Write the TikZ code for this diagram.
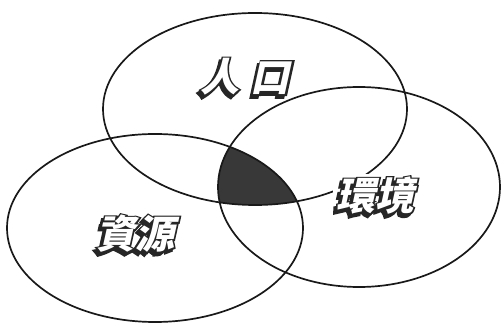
\documentclass[tikz,border=0pt]{standalone}
\usepackage{fontspec}
\newfontfamily\cjk[FakeSlant=0.22]{Noto Sans CJK TC}
\newfontfamily\cjkthick[FakeSlant=0.22,FakeBold=8]{Noto Sans CJK TC}
\newcommand\lay[3]{\makebox[0pt][l]{\kern#1\raisebox{#2}{#3}}}
\newcommand\embtxt[1]{%
\lay{-2.8pt}{-2.8pt}{\cjkthick\bfseries #1}%
\lay{0pt}{0pt}{\cjkthick\bfseries #1}%
{\color{white}\cjk\bfseries #1}}
\tikzset{
  ring/.style={draw=black!90, line width=1.7pt},
  lbl/.style={font=\cjk\bfseries\fontsize{39}{39}\selectfont, text=black!85, inner sep=3pt},
}
\begin{document}
\begin{tikzpicture}[x=1pt,y=-1pt]
\useasboundingbox (0,0) rectangle (501,323);
\begin{scope}
\clip (255,109) ellipse [x radius=152, y radius=96];
\clip (155,228) ellipse [x radius=148, y radius=94];
\fill[black!78] (359,187) ellipse [x radius=141, y radius=100];
\end{scope}
\draw[ring] (255,109) ellipse [x radius=152, y radius=96];
\draw[ring] (155,228) ellipse [x radius=148, y radius=94];
\draw[ring] (359,187) ellipse [x radius=141, y radius=100];
\node[lbl] (pop) at (245,78) {\embtxt{人\hspace{12pt}口}};
\node[lbl] (res) at (135,235) {\embtxt{資源}};
\node[lbl, fill=white] (env) at (375,197) {\embtxt{環境}};
\end{tikzpicture}
\end{document}
